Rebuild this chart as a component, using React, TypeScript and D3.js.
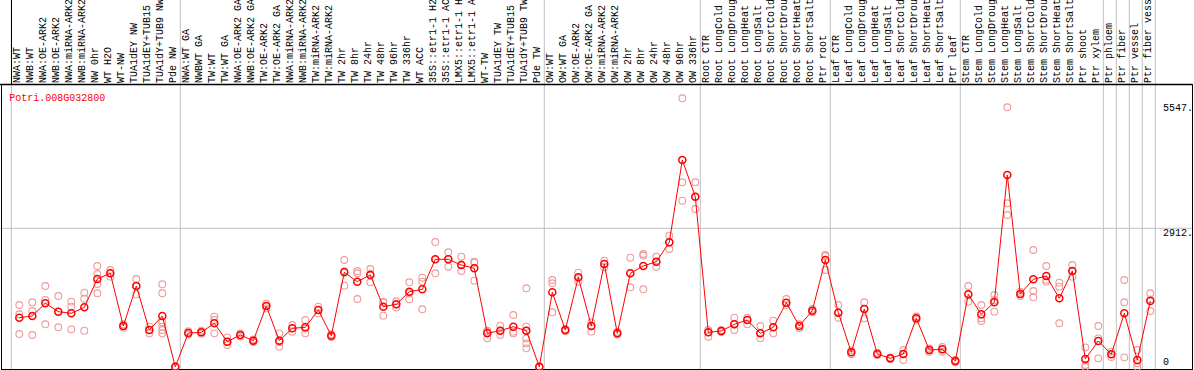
import React from 'react';
import * as d3 from 'd3';

const title = 'Potri.008G032800';

const labels = [
  'NWA:WT', 'NWB:WT', 'NWA:OE-ARK2', 'NWB:OE-ARK2', 'NWA:miRNA-ARK2', 'NWB:miRNA-ARK2', 'NW 0hr', 'WT H2O', 'WT-NW',
  'TUA1dEY NW', 'TUA1dEY+TUB15 ', 'TUA1dY+TUB9 NW', 'Pde NW',
  'NWA:WT GA', 'NWBWT GA', 'TW:WT', 'TW:WT GA', 'NWA:OE-ARK2 GA', 'NWB:OE-ARK2 GA', 'TW:OE-ARK2', 'TW:OE-ARK2 GA',
  'NWA:miRNA-ARK2', 'NWB:miRNA-ARK2', 'TW:miRNA-ARK2', 'TW:miRNA-ARK2', 'TW 2hr', 'TW 8hr', 'TW 24hr', 'TW 48hr',
  'TW 96hr', 'TW 336hr', 'WT ACC', '35S::etr1-1 H2', '35S::etr1-1 AC', 'LMX5::etr1-1 H', 'LMX5::etr1-1 A',
  'WT-TW', 'TUA1dEY TW', 'TUA1dEY+TUB15 ', 'TUA1dY+TUB9 TW', 'Pde TW',
  'OW:WT', 'OW:WT GA', 'OW:OE-ARK2', 'OW:OE-ARK2 GA', 'OW:miRNA-ARK2', 'OW:miRNA-ARK2', 'OW 2hr', 'OW 8hr',
  'OW 24hr', 'OW 48hr', 'OW 96hr', 'OW 336hr',
  'Root CTR', 'Root LongCold', 'Root LongDroug', 'Root LongHeat', 'Root LongSalt', 'Root ShortCold',
  'Root ShortDrou', 'Root ShortHeat', 'Root ShortSalt', 'Ptr root',
  'Leaf CTR', 'Leaf LongCold', 'Leaf LongDroug', 'Leaf LongHeat', 'Leaf LongSalt', 'Leaf ShortCold',
  'Leaf ShortDrou', 'Leaf ShortHeat', 'Leaf ShortSalt', 'Ptr leaf',
  'Stem CTR', 'Stem LongCold', 'Stem LongDroug', 'Stem LongHeat', 'Stem LongSalt', 'Stem ShortCold',
  'Stem ShortDrou', 'Stem ShortHeat', 'Stem ShortSalt', 'Ptr shoot',
  'Ptr xylem', 'Ptr phloem', 'Ptr fiber', 'Ptr vessel', 'Ptr fiber vess',
];

const means = [
  1035, 1071, 1337, 1162, 1127, 1253, 1848, 1967, 861, 1701, 777, 1071, 5,
  714, 728, 917, 532, 672, 553, 1281, 553, 812, 833, 1197, 658, 1988, 1792, 1932, 1267,
  1316, 1581, 1631, 2261, 2261, 2141, 2072, 707, 763, 847, 763, 5,
  1568, 777, 1883, 861, 2163, 707, 1967, 2121, 2211, 2618, 4346, 3576,
  728, 756, 896, 987, 707, 833, 1351, 861, 1183, 2246,
  1141, 308, 1218, 273, 182, 273, 1022, 357, 371, 126,
  1526, 1106, 1358, 4031, 1533, 1841, 1911, 1442, 2016, 168,
  546, 266, 1127, 147, 1386,
];

const replicates = [
  [1302, 1106, 693], [1358, 1176, 672], [1701, 1407, 896], [1491, 1162, 833], [1372, 1267, 791],
  [1561, 1435, 763], [2121, 1953, 1743, 1547], [2037, 1967, 1897], [896, 861, 826], [1848, 1701, 1526],
  [847, 777, 707], [1736, 1547, 938, 847, 777, 707], [0, 5, 10],
  [750, 714, 680], [760, 728, 700], [1057, 987, 707], [623, 532, 462], [707, 672, 640], [580, 553, 525],
  [1330, 1281, 1230], [707, 525, 427], [882, 812, 742], [987, 805, 707], [1267, 1197, 1127], [690, 658, 630],
  [2246, 2010, 1708], [2016, 1967, 1428], [2058, 1960, 1778], [1358, 1365, 1078],
  [1380, 1316, 1250], [1778, 1545, 1421], [1875, 1792, 1211], [2624, 2261, 1967], [2408, 2270, 2106],
  [2316, 2141, 2016], [2211, 2190, 1813], [760, 742, 602], [868, 763, 672], [1092, 742, 707],
  [1652, 847, 763, 602, 497, 392], [0, 5, 10],
  [1827, 1757, 1148], [800, 777, 750], [1980, 1880, 1790], [940, 861, 742], [2232, 2163, 2095],
  [740, 707, 680], [2295, 1967, 1673], [2373, 2340, 1631], [2316, 2211, 2106], [2757, 2618, 2477],
  [5641, 3878, 3492], [3878, 3576, 3317],
  [777, 728, 636], [777, 756, 735], [1035, 896, 777], [1035, 987, 896], [861, 707, 602], [973, 833, 707],
  [1428, 1351, 1300], [900, 861, 820], [1220, 1183, 1150], [2352, 2330, 2037],
  [1302, 1141, 1035], [350, 308, 270], [1358, 1218, 1022], [300, 273, 250], [200, 182, 165],
  [357, 273, 147], [1060, 1022, 990], [390, 357, 320], [420, 371, 320], [150, 126, 100],
  [1701, 1526, 1372], [1302, 1022, 966], [1512, 1400, 1162], [5452, 3437, 3191], [1580, 1533, 1490],
  [2456, 1596, 1463], [2121, 1830, 1792], [1771, 1687, 917], [2141, 2010, 1897], [413, 42, 0],
  [861, 600, 182], [322, 266, 210], [1827, 1358, 203], [357, 80, 0], [1547, 1420, 1176],
];

const yTickValues = [0, 2912, 5547];
const yTickLabels = ['0', '2912.', '5547.'];
const groupBreaks = [0, 13, 41, 53, 63, 73, 84, 85, 86, 87, 88];

const FONT = "'Liberation Mono', 'DejaVu Sans Mono', monospace";

export default function App() {
  const W = 1194;
  const H = 370;
  const n = labels.length;
  const band = d3.scaleBand<number>().domain(d3.range(n)).range([11.3, 11.3 + 13 * n]).padding(0);
  const cx = (i: number) => (band(i) as number) + band.bandwidth() / 2 + 1.5;
  const edge = (k: number) => 11.3 + band.step() * k;
  const y = d3.scaleLinear().domain([0, 5547]).range([367, 102.8]);

  const line = d3
    .line<number>()
    .x((_, i) => cx(i))
    .y((d) => y(d));

  const plotTop = 84.5;
  const plotBottom = 369.5;
  const plotLeft = 1.5;
  const plotRight = 1192.5;

  return (
    <div style={{ position: 'absolute', left: 0, top: 0, width: W, height: H, background: '#fff' }}>
      <svg width={W} height={H} style={{ display: 'block' }}>
        <rect x={0} y={0} width={W} height={H} fill="#fff" />
        {groupBreaks.map((k) => (
          <line key={'sep' + k} x1={edge(k)} x2={edge(k)} y1={0} y2={plotBottom} stroke="#c0c0c0" strokeWidth={1} />
        ))}
        <line x1={plotLeft} x2={plotRight} y1={y(2912)} y2={y(2912)} stroke="#c0c0c0" strokeWidth={1} />
        <line x1={11.5} x2={11.5} y1={0} y2={plotTop} stroke="#000" strokeWidth={1} />
        {labels.map((l, i) => (
          <text
            key={'lab' + i}
            transform={`translate(${cx(i) + 1},83) rotate(-90)`}
            fontFamily={FONT}
            fontSize={10}
            fill="#000"
            style={{ whiteSpace: 'pre' }}
          >
            {l}
          </text>
        ))}
        <rect
          x={plotLeft}
          y={plotTop}
          width={plotRight - plotLeft}
          height={plotBottom - plotTop}
          fill="none"
          stroke="#000"
          strokeWidth={1}
        />
        <line x1={0} x2={plotRight} y1={plotTop} y2={plotTop} stroke="#000" strokeWidth={1.5} />
        <text x={9.3} y={101} fontFamily={FONT} fontSize={10} fill="#ff0000">
          {title}
        </text>
        {yTickValues.map((v, i) => (
          <text
            key={'yt' + i}
            x={1163}
            y={v === 0 ? y(v) - 2 : y(v) + 8}
            fontFamily={FONT}
            fontSize={10}
            fill="#000"
          >
            {yTickLabels[i]}
          </text>
        ))}
        {replicates.map((reps, i) =>
          reps.map((v, j) => (
            <circle
              key={`r${i}-${j}`}
              cx={cx(i)}
              cy={y(v)}
              r={3.4}
              fill="none"
              stroke="#f09a9a"
              strokeWidth={1.1}
            />
          ))
        )}
        <path d={line(means) as string} fill="none" stroke="#ff0000" strokeWidth={1} />
        {means.map((v, i) => (
          <circle key={'m' + i} cx={cx(i)} cy={y(v)} r={3.5} fill="none" stroke="#ff0000" strokeWidth={1.5} />
        ))}
      </svg>
    </div>
  );
}
